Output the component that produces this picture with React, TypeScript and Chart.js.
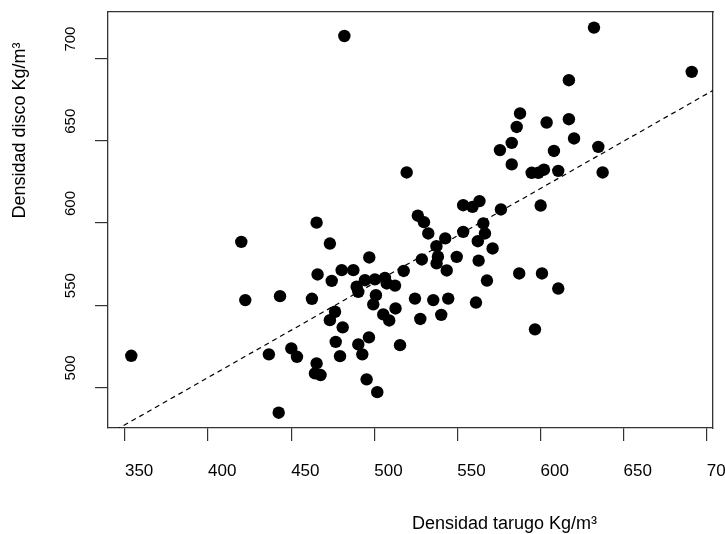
import { useEffect, useRef } from "react";
import { Chart, registerables } from "chart.js";

Chart.register(...registerables);

// Densidad tarugo (x) and densidad disco (y), kg/m³
const densidadTarugo = [
  353.8, 420.0, 422.4, 443.3, 436.6, 450.1, 453.5, 442.5, 465.3, 473.3,
  462.5, 465.9, 474.4, 480.4, 487.4, 497.0, 494.4, 489.4, 500.4, 506.4,
  507.5, 512.5, 490.4, 501.0, 499.4, 512.8, 524.5, 535.5, 544.5, 561.2,
  505.4, 509.0, 527.7, 540.3, 517.7, 528.6, 526.2, 529.9, 532.5, 553.5,
  542.7, 537.4, 538.3, 537.5, 549.6, 543.6, 476.4, 473.3, 481.0, 476.8,
  490.4, 496.8, 492.8, 479.4, 515.5, 465.3, 464.3, 467.7, 495.4, 501.8,
  563.3, 559.1, 553.5, 576.2, 600.1, 565.6, 566.6, 562.3, 571.2, 562.8,
  567.8, 587.2, 600.9, 610.7, 596.7, 632.2, 691.0, 617.1, 587.7, 585.7,
  603.7, 617.1, 582.7, 575.6, 620.2, 608.1, 634.8, 582.7, 594.7, 598.7,
  602.1, 610.7, 637.4, 482.0, 519.5,
];
const densidadDisco = [
  519.2, 588.5, 553.1, 555.5, 520.1, 523.7, 518.6, 484.6, 600.2, 587.5,
  553.9, 568.7, 564.8, 571.3, 571.3, 579.0, 565.2, 561.2, 565.7, 566.6,
  563.2, 561.9, 558.1, 556.1, 550.5, 548.0, 554.0, 553.1, 554.0, 551.6,
  544.4, 540.7, 541.6, 544.1, 570.8, 577.8, 604.4, 600.5, 593.6, 594.6,
  590.6, 585.9, 579.5, 575.4, 579.4, 571.1, 546.0, 540.9, 536.5, 527.7,
  526.1, 530.4, 520.1, 519.0, 525.7, 514.6, 508.5, 507.5, 504.9, 497.1,
  613.3, 609.8, 610.8, 608.2, 610.6, 599.7, 593.6, 588.9, 584.5, 577.1,
  565.0, 569.3, 569.3, 560.1, 535.3, 718.8, 691.9, 686.8, 666.6, 658.4,
  661.1, 663.1, 648.7, 644.3, 651.4, 643.8, 646.3, 635.6, 630.5, 630.5,
  632.4, 631.7, 630.7, 713.7, 630.7,
];

// regression line end points
const tendenciaX = [339.8, 703.8];
const tendenciaY = [471.4, 680.6];

// axis limits and tick step
const xLimits = [339.8, 703.8];
const yLimits = [475.3, 728.3];
const tickStep = 50;

const xTitle = "Densidad tarugo Kg/m³";
const yTitle = "Densidad disco Kg/m³";

const FONT = '"Liberation Sans", Arial, Helvetica, sans-serif';
const AXIS_COLOR = "#333";

export default function App() {
  const ref = useRef<HTMLCanvasElement>(null);

  useEffect(() => {
    const canvas = ref.current;
    if (!canvas) return;

    const axisTitles = {
      id: "axisTitles",
      afterDraw(chart: any) {
        const ctx = chart.ctx;
        ctx.save();
        ctx.fillStyle = "#000";
        ctx.font = `18px ${FONT}`;
        ctx.textAlign = "center";
        ctx.textBaseline = "middle";
        ctx.fillText(xTitle, 504.5, 524);
        ctx.translate(20, 130.5);
        ctx.rotate(-Math.PI / 2);
        ctx.fillText(yTitle, 0, 0);
        ctx.restore();
      },
    };

    const boxBorder = { display: true, color: AXIS_COLOR, width: 1.3 };

    const chart = new Chart(canvas, {
      type: "scatter",
      data: {
        datasets: [
          {
            type: "scatter",
            data: densidadTarugo.map((x, i) => ({ x, y: densidadDisco[i] })),
            backgroundColor: "#000",
            borderColor: "#000",
            borderWidth: 0,
            pointRadius: 6.2,
            pointHoverRadius: 6.2,
          },
          {
            type: "line",
            data: tendenciaX.map((x, i) => ({ x, y: tendenciaY[i] })),
            borderColor: "#000",
            borderWidth: 1.2,
            borderDash: [5, 4],
            pointRadius: 0,
            fill: false,
            tension: 0,
          },
        ],
      } as any,
      options: {
        responsive: false,
        animation: false,
        events: [],
        layout: { padding: { top: 12, right: 12, left: 0, bottom: 0 } },
        plugins: {
          legend: { display: false },
          tooltip: { enabled: false },
        },
        scales: {
          x: {
            type: "linear",
            position: "bottom",
            min: xLimits[0],
            max: xLimits[1],
            afterFit(s: any) {
              s.height = 106;
              s.paddingLeft = 0;
              s.paddingRight = 0;
            },
            ticks: {
              stepSize: tickStep,
              includeBounds: false,
              autoSkip: false,
              align: "start",
              padding: 20,
              maxRotation: 0,
              minRotation: 0,
              color: "#000",
              font: { family: FONT, size: 17 },
            },
            grid: {
              display: true,
              drawOnChartArea: false,
              drawTicks: true,
              tickLength: 13,
              color: AXIS_COLOR,
              lineWidth: 1.2,
            },
            border: boxBorder,
          },
          y: {
            type: "linear",
            position: "left",
            min: yLimits[0],
            max: yLimits[1],
            afterFit(s: any) {
              s.width = 108;
              s.paddingTop = 0;
              s.paddingBottom = 0;
            },
            ticks: {
              stepSize: tickStep,
              includeBounds: false,
              autoSkip: false,
              padding: 24,
              minRotation: 90,
              maxRotation: 90,
              labelOffset: -32,
              color: "#000",
              font: { family: FONT, size: 15 },
            },
            grid: {
              display: true,
              drawOnChartArea: false,
              drawTicks: true,
              tickLength: 13,
              color: AXIS_COLOR,
              lineWidth: 1.2,
            },
            border: boxBorder,
          },
          xTop: {
            type: "linear",
            position: "top",
            afterFit(s: any) {
              s.height = 0;
              s.paddingLeft = 0;
              s.paddingRight = 0;
            },
            ticks: { display: false },
            grid: { display: false, drawTicks: false },
            border: boxBorder,
          },
          yRight: {
            type: "linear",
            position: "right",
            afterFit(s: any) {
              s.width = 0;
              s.paddingTop = 0;
              s.paddingBottom = 0;
            },
            ticks: { display: false },
            grid: { display: false, drawTicks: false },
            border: boxBorder,
          },
        },
      } as any,
      plugins: [axisTitles],
    });

    return () => chart.destroy();
  }, []);

  return (
    <div
      style={{
        position: "fixed",
        left: 0,
        top: 0,
        width: 725,
        height: 534,
        background: "#fff",
      }}
    >
      <canvas ref={ref} width={725} height={534} style={{ display: "block" }} />
    </div>
  );
}
